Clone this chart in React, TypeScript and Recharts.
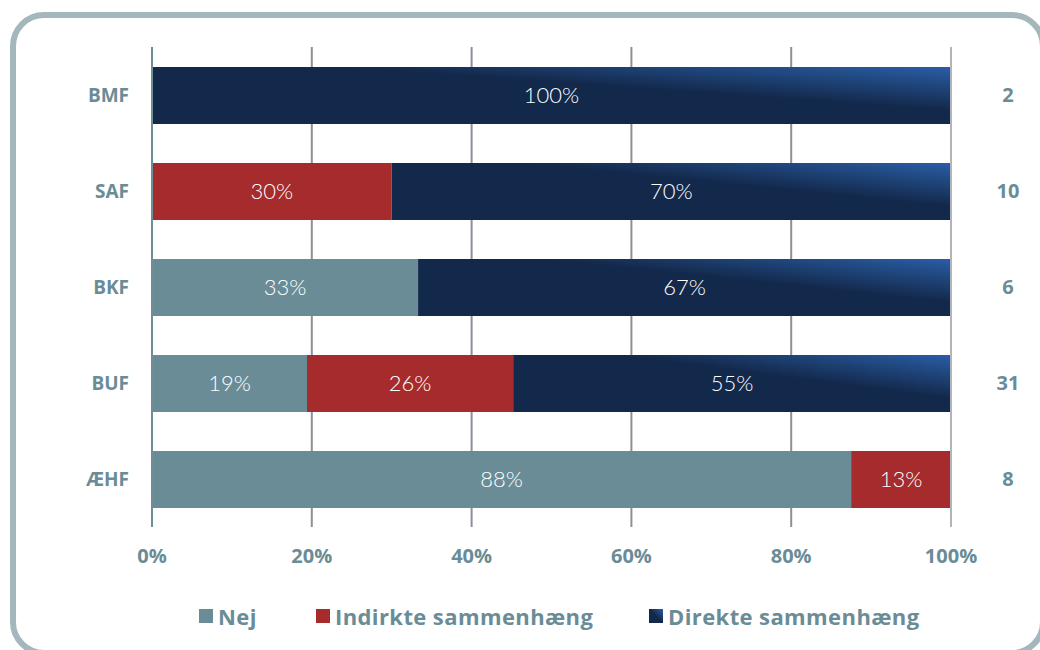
import { BarChart, Bar, XAxis, YAxis, CartesianGrid, LabelList } from "recharts";

const categories = ["BMF", "SAF", "BKF", "BUF", "ÆHF"];
const nej = [0, 0, 33.3, 19.4, 87.5];
const indirekte = [0, 30, 0, 25.8, 12.5];
const direkte = [100, 70, 66.7, 54.8, 0];
const counts = [2, 10, 6, 31, 8];
const xTicks = [0, 20, 40, 60, 80, 100];

const seriesNames = ["Nej", "Indirkte sammenhæng", "Direkte sammenhæng"];

const TEXT = "#6a8c96";
const NEJ = "#6a8c96";
const IND = "#a62b2c";
const DIR = "#13294b";

const data = categories.map((name, i) => ({
  name,
  nej: nej[i],
  indirekte: indirekte[i],
  direkte: direkte[i],
  n: counts[i],
}));

const fmtPct = (v: any) => (v > 0 ? `${Math.round(Number(v))}%` : "");

const labelStyle = {
  fill: "#ffffff",
  fontSize: 22,
  fontFamily: "Lato, 'Open Sans', sans-serif",
  fontWeight: 300,
};

export default function App() {
  const swatches = [
    { name: seriesNames[0], fill: NEJ },
    { name: seriesNames[1], fill: IND },
    { name: seriesNames[2], fill: "url(#legendGrad)" },
  ];
  return (
    <div
      style={{
        position: "absolute",
        left: 0,
        top: 0,
        width: 1040,
        height: 650,
        overflow: "hidden",
        background: "#fff",
      }}
    >
      <div
        style={{
          position: "absolute",
          left: 10,
          top: 12,
          width: 1036,
          height: 644,
          boxSizing: "border-box",
          border: "6px solid #a3b7bd",
          borderRadius: 34,
        }}
      />
      <div style={{ position: "absolute", left: 0, top: 0 }}>
        <BarChart
          width={1040}
          height={650}
          data={data}
          layout="vertical"
          margin={{ top: 47, right: 0, bottom: 83, left: 0 }}
          barSize={57}
        >
          <defs>
            <linearGradient id="dirGrad" x1="0" y1="1" x2="1" y2="0">
              <stop offset="0" stopColor={DIR} />
              <stop offset="0.62" stopColor={DIR} />
              <stop offset="1" stopColor="#2a5ea6" />
            </linearGradient>
          </defs>
          <CartesianGrid horizontal={false} stroke="#8e8f97" strokeWidth={2} />
          <XAxis
            type="number"
            domain={[0, 100]}
            ticks={xTicks}
            tickFormatter={(v) => `${v}%`}
            axisLine={false}
            tickLine={false}
            tickSize={0}
            tickMargin={22}
            height={40}
            tick={{
              fill: TEXT,
              fontSize: 20,
              fontWeight: 700,
              fontFamily: "'Open Sans', sans-serif",
            }}
          />
          <YAxis
            yAxisId="left"
            type="category"
            dataKey="name"
            width={152}
            axisLine={{ stroke: "#6e8e98", strokeWidth: 2 }}
            tickLine={false}
            tickSize={0}
            tickMargin={23}
            tick={{
              fill: TEXT,
              fontSize: 19,
              fontWeight: 700,
              fontFamily: "'Open Sans', sans-serif",
            }}
          />
          <YAxis
            yAxisId="right"
            orientation="right"
            type="category"
            dataKey="name"
            width={89}
            axisLine={{ stroke: "#b3b4bb", strokeWidth: 2 }}
            tickLine={false}
            tickSize={0}
            tickFormatter={(v: string) => String(counts[categories.indexOf(v)])}
            tick={{
              fill: TEXT,
              fontSize: 20,
              fontWeight: 700,
              fontFamily: "'Open Sans', sans-serif",
              textAnchor: "middle",
              dx: 55,
            }}
          />
          <Bar dataKey="nej" yAxisId="left" stackId="a" fill={NEJ} isAnimationActive={false}>
            <LabelList dataKey="nej" position="center" formatter={fmtPct} style={labelStyle} />
          </Bar>
          <Bar dataKey="indirekte" yAxisId="left" stackId="a" fill={IND} isAnimationActive={false}>
            <LabelList dataKey="indirekte" position="center" formatter={fmtPct} style={labelStyle} />
          </Bar>
          <Bar dataKey="direkte" yAxisId="left" stackId="a" fill="url(#dirGrad)" isAnimationActive={false}>
            <LabelList dataKey="direkte" position="center" formatter={fmtPct} style={labelStyle} />
          </Bar>
        </BarChart>
      </div>
      <svg width={0} height={0} style={{ position: "absolute" }}>
        <defs>
          <linearGradient id="legendGrad" x1="0" y1="1" x2="1" y2="0">
            <stop offset="0" stopColor={DIR} />
            <stop offset="0.5" stopColor={DIR} />
            <stop offset="1" stopColor="#2a5ea6" />
          </linearGradient>
        </defs>
      </svg>
      {swatches.map((s, i) => (
        <div
          key={s.name}
          style={{
            position: "absolute",
            top: 601,
            left: [199, 316, 649][i],
            display: "flex",
            alignItems: "center",
            fontFamily: "'Open Sans', sans-serif",
            fontWeight: 700,
            fontSize: 22,
            letterSpacing: 0.4,
            color: TEXT,
            whiteSpace: "nowrap",
          }}
        >
          <svg width={14} height={14} style={{ marginRight: 5 }}>
            <rect width={14} height={14} fill={s.fill} />
          </svg>
          {s.name}
        </div>
      ))}
    </div>
  );
}
